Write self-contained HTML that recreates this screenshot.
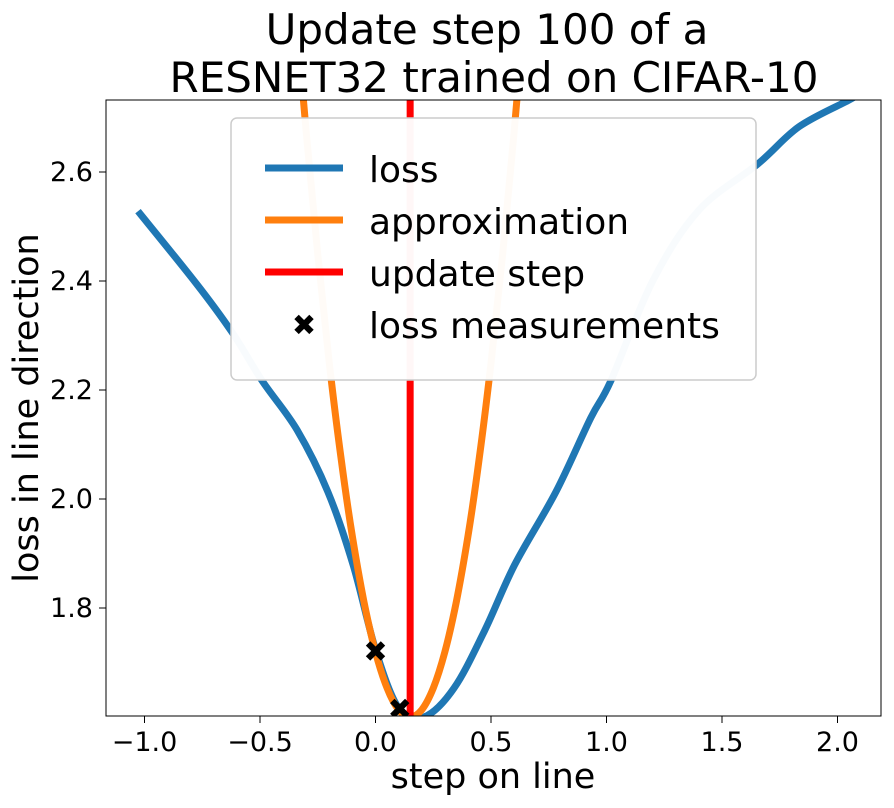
<!DOCTYPE html>
<html><head><meta charset="utf-8"><style>body{margin:0;background:#fff}svg text{font-family:"DejaVu Sans","Liberation Sans",sans-serif}</style></head>
<body>
<svg id="chart" width="894" height="803" xmlns="http://www.w3.org/2000/svg">
<defs><clipPath id="clip"><rect x="106" y="100" width="775" height="616"/></clipPath></defs>
<text x="487" y="44" font-size="42" text-anchor="middle">Update step 100 of a</text>
<text x="494" y="92" font-size="42" text-anchor="middle">RESNET32 trained on CIFAR-10</text>
<g id="plot" clip-path="url(#clip)"></g>
<rect x="106" y="100" width="775" height="616" fill="none" stroke="#000" stroke-width="1"/>
<g id="axes"></g>
<text x="493" y="788" font-size="35" text-anchor="middle">step on line</text>
<text x="0" y="0" font-size="35" text-anchor="middle" transform="translate(38,408) rotate(-90)">loss in line direction</text>
<g>
<rect x="231" y="118" width="525" height="262" rx="6" fill="#fff" fill-opacity="0.97" stroke="#ccc" stroke-width="1.5"/>
<line x1="265" y1="168" x2="343" y2="168" stroke="#1f77b4" stroke-width="7"/>
<text x="369" y="182" font-size="36">loss</text>
<line x1="265" y1="220" x2="343" y2="220" stroke="#ff7f0e" stroke-width="7"/>
<text x="369" y="234" font-size="36">approximation</text>
<line x1="265" y1="272" x2="343" y2="272" stroke="#ff0000" stroke-width="7"/>
<text x="369" y="286" font-size="36">update step</text>
<text x="304" y="335" font-size="29" text-anchor="middle" font-weight="bold">✖</text>
<text x="369" y="338" font-size="36">loss measurements</text>
</g>
</svg>
<script>
const lossX=[-1.028,-0.777,-0.621,-0.491,-0.34,-0.206,-0.097,0.002,0.102,0.21,0.34,0.472,0.602,0.781,0.932,1.019,1.2,1.4,1.656,1.833,2.05,2.1];
const lossY=[2.528,2.396,2.306,2.217,2.127,2.013,1.879,1.721,1.615,1.6,1.653,1.758,1.879,2.013,2.149,2.217,2.4,2.53,2.615,2.683,2.732,2.745];
const approxX=[-0.35,-0.3,-0.25,-0.2,-0.15,-0.1,-0.05,0,0.05,0.1,0.15,0.2,0.25,0.3,0.35,0.4,0.45,0.5,0.55,0.6,0.65];
const approxY=[2.925,2.673,2.448,2.249,2.077,1.931,1.812,1.719,1.653,1.613,1.6,1.613,1.653,1.719,1.812,1.931,2.077,2.249,2.448,2.673,2.925];
const stepX=[0.15];
const measX=[0,0.105];
const measY=[1.72,1.615];
const xTicks=[-1,-0.5,0,0.5,1,1.5,2];
const xTickLabels=["−1.0","−0.5","0.0","0.5","1.0","1.5","2.0"];
const yTicks=[1.8,2.0,2.2,2.4,2.6];
const yTickLabels=["1.8","2.0","2.2","2.4","2.6"];
const NS="http://www.w3.org/2000/svg";
const sx=v=>375.5+v*231;
const sy=v=>608-(v-1.8)*545;
const plot=document.getElementById('plot'),axes=document.getElementById('axes');
function mk(t,a,p){const e=document.createElementNS(NS,t);for(const k in a)e.setAttribute(k,a[k]);p.appendChild(e);return e;}
function line(xs,ys,color,name){
  const P=xs.map((x,i)=>[sx(x),sy(ys[i])]);
  let d='M'+P[0][0].toFixed(1)+' '+P[0][1].toFixed(1);
  for(let i=0;i<P.length-1;i++){
    const p0=P[Math.max(i-1,0)],p1=P[i],p2=P[i+1],p3=P[Math.min(i+2,P.length-1)];
    const c1=[p1[0]+(p2[0]-p0[0])/6,p1[1]+(p2[1]-p0[1])/6];
    const c2=[p2[0]-(p3[0]-p1[0])/6,p2[1]-(p3[1]-p1[1])/6];
    d+=' C'+c1.map(v=>v.toFixed(1)).join(' ')+' '+c2.map(v=>v.toFixed(1)).join(' ')+' '+p2.map(v=>v.toFixed(1)).join(' ');
  }
  const p=mk('path',{d:d,fill:'none',stroke:color,'stroke-width':7,'stroke-linejoin':'round'},plot);
  
  
}
line(lossX,lossY,'#1f77b4','loss-line');
line(approxX,approxY,'#ff7f0e','approximation-line');
stepX.forEach(v=>{
  const l=mk('line',{x1:sx(v),x2:sx(v),y1:90,y2:720,stroke:'#ff0000','stroke-width':7},plot);
  
  
});
measX.forEach((v,i)=>{
  const t=mk('text',{x:sx(v),y:sy(measY[i])+10,'font-size':29,'text-anchor':'middle','font-weight':'bold'},plot);
  t.textContent='✖';
  
  
});
xTicks.forEach((v,i)=>{
  const x=sx(v);
  const l=mk('line',{x1:x,x2:x,y1:716,y2:723,stroke:'#000'},axes);
  
  
  const t=mk('text',{x:x,y:751,'font-size':27,'text-anchor':'middle'},axes);
  t.textContent=xTickLabels[i];
  
  
});
yTicks.forEach((v,i)=>{
  const y=sy(v);
  const l=mk('line',{x1:99,x2:106,y1:y,y2:y,stroke:'#000'},axes);
  
  
  const t=mk('text',{x:93,y:y+9,'font-size':27,'text-anchor':'end'},axes);
  t.textContent=yTickLabels[i];
  
  
});
</script>
</body></html>
